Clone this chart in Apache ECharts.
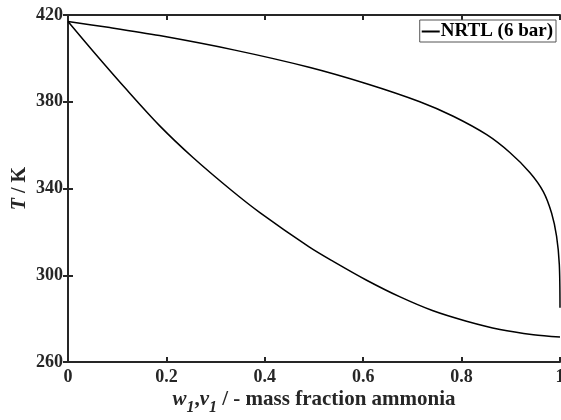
<!DOCTYPE html>
<html>
<head>
<meta charset="utf-8">
<style>
  html, body { margin: 0; padding: 0; background: #fff; }
  #chart { width: 561px; height: 420px; }
</style>
<script src="https://cdn.jsdelivr.net/npm/echarts@6/dist/echarts.min.js"></script>
</head>
<body>
<div id="chart"></div>
<script>
// Vapour (dew) line of ammonia/water at 6 bar: mass fraction vs temperature
const dewW = [0, 0.085, 0.186, 0.339, 0.49, 0.607, 0.715, 0.783, 0.851, 0.898, 0.939, 0.966, 0.983, 0.993, 0.9986, 1.0];
const dewT = [417.0, 414.2, 410.5, 403.8, 395.9, 388.3, 380.0, 373.3, 364.8, 356.6, 347.3, 338.6, 328.6, 318.0, 305.0, 285.0];

// Liquid (bubble) line
const bubW = [0, 0.051, 0.119, 0.186, 0.254, 0.332, 0.39, 0.49, 0.539, 0.607, 0.675, 0.742, 0.81, 0.878, 0.946, 1.0];
const bubT = [417.0, 403.3, 385.6, 369.0, 354.3, 339.2, 328.9, 313.1, 306.4, 297.7, 290.0, 283.6, 278.8, 275.0, 272.6, 271.5];

const seriesName = 'NRTL (6 bar)';
const xTicks = { min: 0, max: 1, step: 0.2 };
const yTicks = { min: 260, max: 420, step: 40 };

const FONT = "'Liberation Serif', 'Times New Roman', serif";
const AXIS_COLOR = '#262626';

const pairs = (xs, ys) => xs.map((x, i) => [x, ys[i]]);

const axisLine = { show: true, lineStyle: { color: AXIS_COLOR, width: 2 } };
const axisTick = { show: true, inside: true, length: 5, lineStyle: { color: AXIS_COLOR, width: 2 } };
const tickLabel = { fontFamily: FONT, fontWeight: 'bold', fontSize: 18, color: AXIS_COLOR };

const chart = echarts.init(document.getElementById('chart'), null, { renderer: 'canvas' });

chart.setOption({
  animation: false,
  backgroundColor: '#fff',
  grid: { left: 68, right: 1, top: 15, bottom: 58, containLabel: false, outerBoundsMode: 'none' },
  legend: {
    data: [seriesName],
    right: 5,
    top: 20,
    icon: 'rect',
    itemWidth: 18,
    itemHeight: 2,
    backgroundColor: '#fff',
    borderColor: '#555',
    borderWidth: 1,
    borderRadius: 0,
    padding: [2, 3, 1, 2],
    textStyle: { fontFamily: FONT, fontWeight: 'bold', fontSize: 19, color: '#000', padding: [0, 0, 0, -4] }
  },
  xAxis: [
    {
      type: 'value', position: 'bottom',
      min: xTicks.min, max: xTicks.max, interval: xTicks.step,
      axisLine, axisTick, splitLine: { show: false },
      axisLabel: Object.assign({ margin: 6 }, tickLabel),
      name: '{i|w}{sub|1}{n|,}{i|v}{sub|1}{n| / - mass fraction ammonia}',
      nameLocation: 'middle',
      nameGap: 27,
      nameMoveOverlap: false,
      nameTextStyle: {
        fontFamily: FONT, fontWeight: 'bold', fontSize: 21, color: AXIS_COLOR,
        rich: {
          i: { fontFamily: FONT, fontStyle: 'italic', fontWeight: 'bold', fontSize: 21, color: AXIS_COLOR },
          n: { fontFamily: FONT, fontWeight: 'bold', fontSize: 21, color: AXIS_COLOR },
          sub: { fontFamily: FONT, fontStyle: 'italic', fontWeight: 'bold', fontSize: 16, lineHeight: 16, padding: [17, 0, 0, 0], color: AXIS_COLOR }
        }
      }
    },
    {
      type: 'value', position: 'top',
      min: xTicks.min, max: xTicks.max, interval: xTicks.step,
      axisLine, axisTick, splitLine: { show: false },
      axisLabel: { show: false }
    }
  ],
  yAxis: [
    {
      type: 'value', position: 'left',
      min: yTicks.min, max: yTicks.max, interval: yTicks.step,
      axisLine, axisTick, splitLine: { show: false },
      axisLabel: Object.assign({ margin: 5 }, tickLabel),
      name: '{i|T}{n| / K}',
      nameLocation: 'middle',
      nameGap: 38,
      nameMoveOverlap: false,
      nameTextStyle: {
        fontFamily: FONT, fontWeight: 'bold', fontSize: 20, color: AXIS_COLOR,
        rich: {
          i: { fontFamily: FONT, fontStyle: 'italic', fontWeight: 'bold', fontSize: 20, color: AXIS_COLOR },
          n: { fontFamily: FONT, fontWeight: 'bold', fontSize: 20, color: AXIS_COLOR }
        }
      }
    },
    {
      type: 'value', position: 'right',
      min: yTicks.min, max: yTicks.max, interval: yTicks.step,
      axisLine, axisTick, splitLine: { show: false },
      axisLabel: { show: false }
    }
  ],
  series: [
    {
      name: seriesName, type: 'line', xAxisIndex: 0, yAxisIndex: 0,
      data: pairs(dewW, dewT), symbol: 'none', smooth: 0.3,
      lineStyle: { color: '#000', width: 1.5 }, itemStyle: { color: '#000' }
    },
    {
      name: seriesName, type: 'line', xAxisIndex: 0, yAxisIndex: 0,
      data: pairs(bubW, bubT), symbol: 'none', smooth: 0.3,
      lineStyle: { color: '#000', width: 1.5 }, itemStyle: { color: '#000' }
    }
  ]
});
</script>
</body>
</html>
